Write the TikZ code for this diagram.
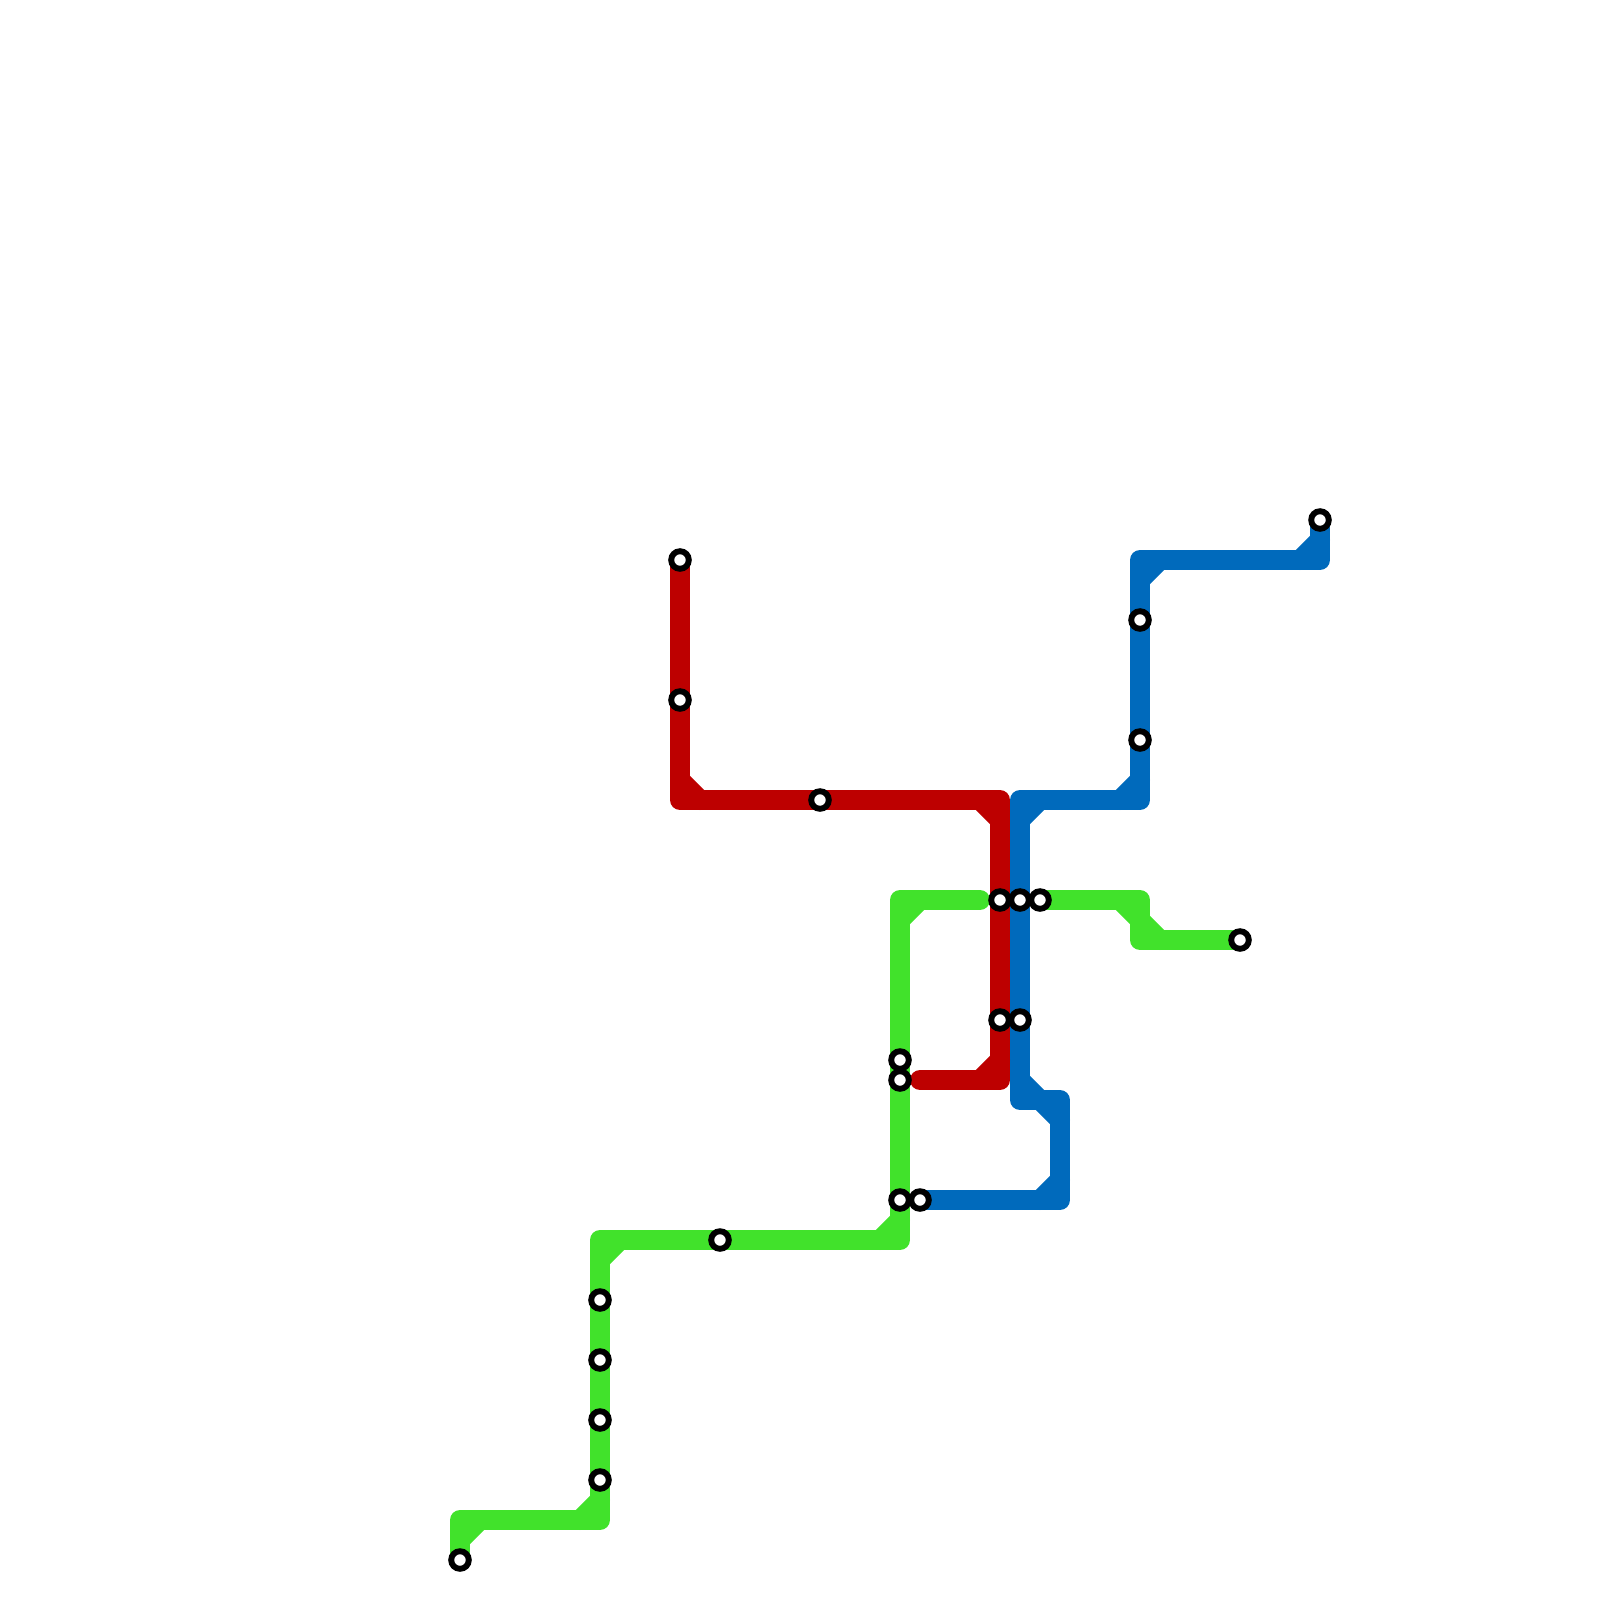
\documentclass[tikz,border=0pt]{standalone}
\usepackage{xcolor}
\usetikzlibrary{backgrounds,calc}
\definecolor{linered}{HTML}{BD0000}
\definecolor{linegreen}{HTML}{41E22B}
\definecolor{lineblue}{HTML}{006ABC}

\begin{document}
\begin{tikzpicture}[
		x=0.5cm,
		y=-0.5cm,
		station/.style={
				circle,
				draw=black,
				fill=white,
				line width=4.2pt,
				minimum size=0.44cm,
				inner sep=0pt
			},
		route/.style={line width=0.5cm, line cap=round, line join=round},
		redroute/.style={route, draw=linered},
		greenroute/.style={route, draw=linegreen},
		blueroute/.style={route, draw=lineblue}
	]
	\useasboundingbox (0,0) rectangle (80,80);

	% Stations on the red line
	\node[station] (redA) at (34,28) {};
	\node[station] (redB) at (34,35) {};
	\node[station] (redC) at (41,40) {};
	\node[station] (redD) at (50,45) {};
	\node[station] (redE) at (50,51) {};

	% Stations on the green line
	\node[station] (greenA) at (23,78) {};
	\node[station] (greenB) at (30,74) {};
	\node[station] (greenC) at (30,71) {};
	\node[station] (greenD) at (30,68) {};
	\node[station] (greenE) at (30,65) {};
	\node[station] (greenF) at (36,62) {};
	\node[station] (greenG) at (45,60) {};
	\node[station] (greenH) at (45,54) {};
	\node[station] (greenI) at (45,53) {};
	\node[station] (greenJ) at (52,45) {};
	\node[station] (greenK) at (62,47) {};

	% Stations on the blue line
	\node[station] (blueA) at (46,60) {};
	\node[station] (blueB) at (51,51) {};
	\node[station] (blueC) at (51,45) {};
	\node[station] (blueD) at (57,37) {};
	\node[station] (blueE) at (57,31) {};
	\node[station] (blueF) at (66,26) {};

	% Bends and free line ends
	\coordinate (redTurnA) at (34,40);
	\coordinate (redTurnB) at (50,40);
	\coordinate (redTurnC) at (50,54);
	\coordinate (redEnd) at (46,54);
	\coordinate (greenTurnA) at (23,76);
	\coordinate (greenTurnB) at (30,76);
	\coordinate (greenTurnC) at (30,62);
	\coordinate (greenTurnD) at (45,62);
	\coordinate (greenTurnE) at (45,45);
	\coordinate (greenEnd) at (49,45);
	\coordinate (greenTurnF) at (57,45);
	\coordinate (greenTurnG) at (57,47);
	\coordinate (blueTurnA) at (53,60);
	\coordinate (blueTurnB) at (53,55);
	\coordinate (blueTurnC) at (51,55);
	\coordinate (blueTurnD) at (51,40);
	\coordinate (blueTurnE) at (57,40);
	\coordinate (blueTurnF) at (57,28);
	\coordinate (blueTurnG) at (66,28);

	\begin{scope}[on background layer]
		% Lines
		\draw[redroute] (redA.center) -- (redTurnA) -- (redTurnB) -- (redTurnC) -- (redEnd);
		\draw[greenroute] (greenA.center) -- (greenTurnA) -- (greenTurnB) -- (greenTurnC) -- (greenTurnD) -- (greenTurnE) -- (greenEnd);
		\draw[greenroute] (greenJ.center) -- (greenTurnF) -- (greenTurnG) -- (greenK.center);
		\draw[blueroute] (blueA.center) -- (blueTurnA) -- (blueTurnB) -- (blueTurnC) -- (blueTurnD) -- (blueTurnE) -- (blueTurnF) -- (blueTurnG) -- (blueF.center);

		% Filled inner corners
		\foreach \turn/\dx/\dy in {redTurnA/1/-1, redTurnB/-1/1, redTurnC/-1/-1} {
				\draw[redroute] ($(\turn)+(\dx,0)$) -- ($(\turn)+(0,\dy)$);
			}
		\foreach \turn/\dx/\dy in {greenTurnA/1/1, greenTurnB/-1/-1, greenTurnC/1/1, greenTurnD/-1/-1, greenTurnE/1/1, greenTurnF/-1/1, greenTurnG/1/-1} {
				\draw[greenroute] ($(\turn)+(\dx,0)$) -- ($(\turn)+(0,\dy)$);
			}
		\foreach \turn/\dx/\dy in {blueTurnA/-1/-1, blueTurnB/-1/1, blueTurnC/1/-1, blueTurnD/1/1, blueTurnE/-1/-1, blueTurnF/1/1, blueTurnG/-1/-1} {
				\draw[blueroute] ($(\turn)+(\dx,0)$) -- ($(\turn)+(0,\dy)$);
			}
	\end{scope}
\end{tikzpicture}
\end{document}
